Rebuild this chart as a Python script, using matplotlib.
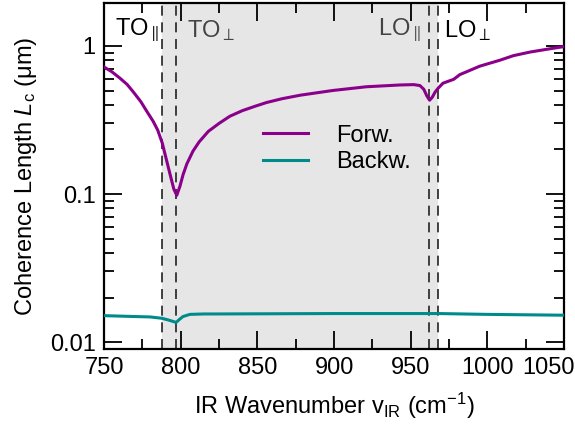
import matplotlib
matplotlib.use('Agg')
import matplotlib.pyplot as plt
from matplotlib.ticker import MultipleLocator, LogLocator, NullFormatter, FuncFormatter

plt.rcParams['font.family'] = ['Liberation Sans', 'DejaVu Sans']
plt.rcParams['mathtext.fontset'] = 'custom'
plt.rcParams['mathtext.rm'] = 'Liberation Sans'
plt.rcParams['mathtext.it'] = 'Liberation Sans:italic'
plt.rcParams['mathtext.bf'] = 'Liberation Sans:bold'

# forward phase matching
wn_forw = [750, 755, 760, 765, 769, 774, 778, 782, 785, 788, 791, 793.5, 795.5, 797.4,
           799.5, 801.5, 804, 808, 812, 818, 825, 832, 840, 848, 856, 866, 878, 899, 921,
           943, 952, 956, 958.5, 960.5, 962.3, 964, 966, 968, 971, 975, 978, 982, 988,
           995, 1008, 1017, 1028, 1039, 1050]
lc_forw = [0.72, 0.67, 0.61, 0.55, 0.49, 0.42, 0.36, 0.31, 0.27, 0.22, 0.165, 0.13, 0.108, 0.098,
           0.113, 0.135, 0.16, 0.195, 0.225, 0.265, 0.30, 0.335, 0.365, 0.39, 0.415, 0.44, 0.465,
           0.50, 0.53, 0.545, 0.548, 0.54, 0.51, 0.46, 0.43, 0.45, 0.49, 0.52, 0.56, 0.58, 0.595,
           0.64, 0.68, 0.73, 0.80, 0.86, 0.91, 0.95, 0.99]

# backward phase matching
wn_back = [750, 769, 780, 787.6, 792, 797, 799, 801.5, 806, 815, 823.5, 900, 968, 1000, 1050]
lc_back = [0.0151, 0.0149, 0.0148, 0.0145, 0.0141, 0.0136, 0.0142, 0.0149, 0.0154,
           0.0155, 0.0155, 0.0156, 0.0156, 0.0154, 0.0152]

# phonon positions
to_par, to_perp = 787.6, 797
lo_par, lo_perp = 962, 968
mode_labels = [r'TO$_{\parallel}$', r'TO$_{\perp}$', r'LO$_{\parallel}$', r'LO$_{\perp}$']
label_x = [757, 804, 928.5, 972]

fs = 17

fig = plt.figure(figsize=(5.75, 4.25), dpi=100)
ax = fig.add_axes([0.181, 0.179, 0.8, 0.814])

ax.axvspan(to_par, lo_perp, color='#e6e6e6', lw=0, zorder=0)
for xv in [to_par, to_perp, lo_par, lo_perp]:
    ax.axvline(xv, color='#222222', lw=1.2, ls=(0, (6, 4)), zorder=1)

ax.plot(wn_forw, lc_forw, color='#8b008b', lw=2.2, label='Forw.', zorder=3)
ax.plot(wn_back, lc_back, color='#008b8b', lw=2.2, label='Backw.', zorder=3)

for lab, xl in zip(mode_labels, label_x):
    col = '#444444' if to_par < xl < lo_perp else 'black'
    ax.text(xl, 1.27, lab, fontsize=fs, color=col, va='center', ha='left')

ax.set_yscale('log')
ax.set_xlim(750, 1050)
ax.set_ylim(0.009, 1.95)
ax.xaxis.set_major_locator(MultipleLocator(50))
ax.xaxis.set_minor_locator(MultipleLocator(25))
# last x label is drawn separately, shifted left so it stays inside the figure
ax.xaxis.set_major_formatter(FuncFormatter(lambda v, p: '' if v >= 1050 else '%d' % v))
ax.yaxis.set_major_locator(LogLocator(base=10, numticks=10))
ax.yaxis.set_minor_locator(LogLocator(base=10, subs=range(2, 10), numticks=20))
ax.yaxis.set_minor_formatter(NullFormatter())
ax.yaxis.set_major_formatter(FuncFormatter(lambda v, p: '%g' % v))

ax.tick_params(which='both', direction='in', top=True, right=True, labelsize=fs, width=1.3)
ax.tick_params(which='major', length=13, pad=6)
ax.tick_params(which='minor', length=7)
for sp in ax.spines.values():
    sp.set_linewidth(1.6)

ax.annotate('1050', xy=(1050, 0), xycoords=('data', 'axes fraction'),
            xytext=(-11, -6), textcoords='offset points', ha='center', va='top',
            fontsize=fs)

ax.set_xlabel(r'IR Wavenumber v$_\mathrm{IR}$ (cm$^{-1}$)', fontsize=fs, labelpad=8)
ax.set_ylabel(r'Coherence Length $L_\mathrm{c}$ ($\mathrm{\mu}$m)', fontsize=fs, labelpad=8)

ax.legend(loc='upper left', bbox_to_anchor=(0.3, 0.71), frameon=False, fontsize=fs,
          handlelength=1.9, handletextpad=1.2, labelspacing=0.2)

fig.savefig('out.png', dpi=100)
